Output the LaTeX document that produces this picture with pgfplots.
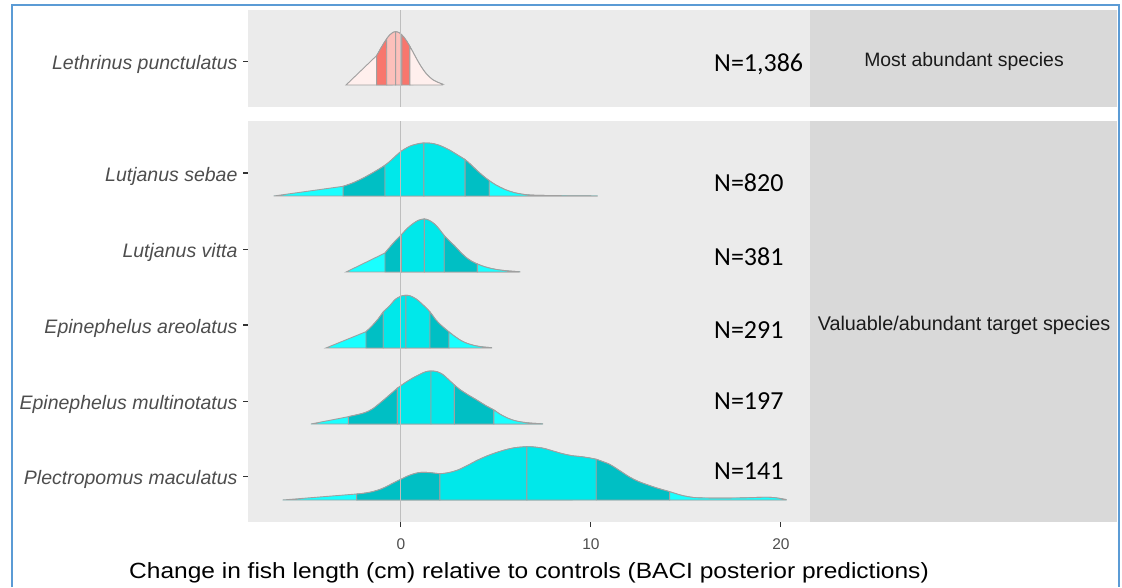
\documentclass[border=0pt]{standalone}
\usepackage{pgfplots}
\pgfplotsset{compat=1.18}
\usepgfplotslibrary{fillbetween}
\usepackage{pgfplotstable}
\usepackage{fontspec}
\setmainfont{Liberation Sans}
\newfontfamily\carlito{Carlito}

\definecolor{panel}{HTML}{EBEBEB}
\definecolor{stripc}{HTML}{D9D9D9}
\definecolor{lab}{HTML}{4D4D4D}
\definecolor{tickc}{HTML}{333333}
\definecolor{strtxt}{HTML}{1A1A1A}
\definecolor{lc}{HTML}{A0A0A0}
\definecolor{zl}{HTML}{BEBEBE}
\definecolor{frame}{HTML}{5B9BD5}
\definecolor{cyo}{HTML}{19FFFF}
\definecolor{cyd}{HTML}{00BFC4}
\definecolor{cyc}{HTML}{00E8EA}
\definecolor{reo}{HTML}{FFEFED}
\definecolor{red}{HTML}{F8766D}
\definecolor{rec}{HTML}{FCC0BB}

\pgfplotstableread{
x h
-2.89 0.8
-2.6 2.3
-2.4 4.0
-2.2 5.8
-2.0 9.3
-1.8 13.8
-1.6 19
-1.4 25.5
-1.2 32
-1.0 38.7
-0.8 44.8
-0.6 49.8
-0.4 52.8
-0.28 53.3
-0.1 52.3
0.1 49
0.3 44
0.5 37.5
0.7 30.5
0.9 23.5
1.1 17.3
1.3 12
1.5 8
1.7 5
1.9 3
2.19 0.8
}\lethrinus

\pgfplotstableread{
x h
-6.7 0.3
-6.0 0.8
-5.5 1.5
-5.0 2.3
-4.5 3.7
-4.0 5.5
-3.5 7.6
-3.04 9.7
-2.5 13.3
-2.0 17.8
-1.5 23
-0.84 30.7
-0.5 36
0.0 44.5
0.5 50
1.0 52.6
1.21 53
1.6 52.7
2.0 50.8
2.5 46.5
3.0 40.8
3.38 36.3
3.7 31
4.0 25.5
4.3 20.5
4.65 15.3
5.0 11
5.5 6.3
6.0 3.2
6.5 1.5
7.0 0.8
8.0 0.4
9.0 0.2
10.35 0
}\sebae

\pgfplotstableread{
x h
-2.89 0.3
-2.5 1
-2.0 2.5
-1.7 4.5
-1.4 8.5
-1.1 13.5
-0.84 19
-0.6 24.5
-0.3 31
0.03 37.3
0.3 43
0.6 47.8
0.9 51.5
1.23 53
1.5 51.5
1.8 47.5
2.05 42
2.28 36.3
2.55 31
2.8 26.5
3.1 20.5
3.4 15
3.7 11
4.02 8
4.4 5.3
4.8 3.3
5.2 2
5.7 1
6.26 0.2
}\vitta

\pgfplotstableread{
x h
-3.95 0.5
-3.6 1.3
-3.3 2.3
-3.0 3.8
-2.6 6.8
-2.2 11
-1.84 16.3
-1.5 22.5
-1.2 29
-0.93 36
-0.6 42
-0.3 48.5
0.0 51.8
0.26 52.7
0.5 52
0.8 49
1.1 44.2
1.53 36
1.8 29
2.1 23
2.53 16
2.9 10.7
3.2 7
3.5 4.5
3.9 2.3
4.3 1.1
4.77 0.3
}\areolatus

\pgfplotstableread{
x h
-4.74 0.3
-4.3 1.3
-3.8 3
-3.3 5
-2.77 7.3
-2.3 9.3
-1.9 11.3
-1.5 15
-1.0 22.5
-0.6 29
-0.19 35.7
0.2 41
0.6 45.7
1.0 49.7
1.3 52.2
1.58 53
1.9 52.3
2.2 49.5
2.5 44.5
2.81 39
3.1 34.5
3.5 29.5
3.9 25
4.2 21.5
4.5 18
4.89 14
5.2 10
5.6 6
6.0 3.3
6.4 1.8
6.9 0.8
7.46 0.2
}\multinotatus

\pgfplotstableread{
x h
-6.23 0.3
-5.5 1.2
-5.0 1.9
-4.5 2.6
-4.0 3.3
-3.5 4.1
-3.0 5
-2.33 6
-2.0 6.6
-1.5 8.3
-1.0 11.3
-0.6 15
-0.3 18
0.0 20.7
0.3 23.5
0.6 25.7
0.9 27.2
1.2 27.7
1.6 27.2
2.05 26.3
2.5 27.3
3.0 30
3.5 34.5
4.0 39.5
4.5 43.8
5.0 47.3
5.5 50.2
6.0 52.3
6.63 53.3
7.0 53
7.5 51.7
8.0 49
8.5 46.3
9.0 44.3
9.5 43.3
10.0 41.8
10.28 40.7
10.7 37.8
11.0 35.5
11.5 29.5
12.0 23.3
12.5 18.5
13.0 15
13.5 11.8
14.14 8.3
14.8 4.5
15.4 2.5
16.0 2
17.0 1.9
18.0 2.1
18.8 2.6
19.3 2.8
19.8 2
20.28 0.4
}\plectropomus

% #1 table, #2 baseline, #3 start, #4 q1, #5 q2, #6 median, #7 q3, #8 q4, #9 end
\newcommand\ridge[9]{%
 \addplot[draw=none, smooth, tension=0.5, name path=c#2] table[x=x, y expr=\thisrow{h}+#2]{#1};
 \addplot[draw=none, name path=b#2] coordinates {(#3,#2) (#9,#2)};
 \addplot[fill=\co, draw=lc, line width=0.9pt] fill between[of=c#2 and b#2, soft clip={domain=#3:#4}];
 \addplot[fill=\cd, draw=lc, line width=0.9pt] fill between[of=c#2 and b#2, soft clip={domain=#4:#5}];
 \addplot[fill=\cc, draw=lc, line width=0.9pt] fill between[of=c#2 and b#2, soft clip={domain=#5:#6}];
 \addplot[fill=\cc, draw=lc, line width=0.9pt] fill between[of=c#2 and b#2, soft clip={domain=#6:#7}];
 \addplot[fill=\cd, draw=lc, line width=0.9pt] fill between[of=c#2 and b#2, soft clip={domain=#7:#8}];
 \addplot[fill=\co, draw=lc, line width=0.9pt] fill between[of=c#2 and b#2, soft clip={domain=#8:#9}];
}

\pgfplotsset{ridgeax/.style={
  scale only axis, width=562pt, xmin=-8.05, xmax=21.53, ymin=0,
  axis line style={draw=none},
  axis background/.style={fill=panel},
  tick align=outside, major tick length=5pt,
  every tick/.style={color=tickc, line width=1.1pt},
  xtick pos=bottom, ytick pos=left,
  yticklabel style={font=\fontsize{19.5}{21}\selectfont\itshape, text=lab, yshift=-3pt, xshift=-2pt},
  xticklabel style={font=\fontsize{15.5}{16}\selectfont, text=lab, yshift=-8pt},
}}

\begin{document}
\begin{tikzpicture}

% top panel
\begin{axis}[ridgeax, at={(248pt,480pt)}, anchor=south west, height=97pt, ymax=97,
  xtick=\empty, ytick={45.3}, yticklabels={Lethrinus punctulatus}]
\def\co{reo}\def\cd{red}\def\cc{rec}
\ridge{\lethrinus}{22}{-2.89}{-1.28}{-0.75}{-0.28}{0.05}{0.47}{2.19}
\addplot[zl, line width=0.9pt] coordinates {(0,0) (0,97)};
\end{axis}

% bottom panel
\begin{axis}[ridgeax, at={(248pt,65pt)}, anchor=south west, height=401pt, ymax=401,
  xtick={0,10,20}, xticklabels={0,10,20},
  ytick={45.3,120.3,197,272.7,349},
  yticklabels={Plectropomus maculatus, Epinephelus multinotatus, Epinephelus areolatus, Lutjanus vitta, Lutjanus sebae},
  xlabel={\scalebox{1.114}[1]{Change in fish length (cm) relative to controls (BACI posterior predictions)}},
  xlabel style={font=\fontsize{22}{23}\selectfont, text=black, at={(axis description cs:0.5,-0.1397)}, anchor=base}]
\def\co{cyo}\def\cd{cyd}\def\cc{cyc}
\ridge{\sebae}{326}{-6.7}{-3.04}{-0.84}{1.21}{3.38}{4.65}{10.35}
\ridge{\vitta}{250}{-2.89}{-0.84}{0.03}{1.23}{2.28}{4.02}{6.26}
\ridge{\areolatus}{174}{-3.95}{-1.84}{-0.93}{0.26}{1.53}{2.53}{4.77}
\ridge{\multinotatus}{98}{-4.74}{-2.77}{-0.19}{1.58}{2.81}{4.89}{7.46}
\ridge{\plectropomus}{22}{-6.23}{-2.33}{2.05}{6.63}{10.28}{14.14}{20.28}
\addplot[zl, line width=0.9pt] coordinates {(0,0) (0,401)};
\end{axis}

% facet strips
\fill[stripc] (810pt,65pt) rectangle (1117pt,466pt);
\fill[stripc] (810pt,480pt) rectangle (1117pt,577pt);
\node[anchor=base, inner sep=0, font=\fontsize{19.4}{20}\selectfont, text=strtxt] at (964pt,520pt) {Most abundant species};
\node[anchor=base, inner sep=0, font=\fontsize{19.8}{20}\selectfont, text=strtxt] at (964pt,256pt) {Valuable/abundant target species};

% sample sizes
\begin{scope}[every node/.style={anchor=base west, inner sep=0, font=\carlito\fontsize{26}{28}\selectfont, text=black}]
\node at (714pt,515.5pt) {N=1,386};
\node at (714pt,395pt) {N=820};
\node at (714pt,321pt) {N=381};
\node at (714pt,248pt) {N=291};
\node at (714pt,178pt) {N=197};
\node at (714pt,107.5pt) {N=141};
\end{scope}

% frame
\draw[frame, line width=1.5pt] (12pt,0pt) -- (12pt,582pt) -- (1119pt,582pt) -- (1119pt,0pt);
\pgfresetboundingbox
\path[use as bounding box] (0,0) rectangle (1122pt,587pt);
\end{tikzpicture}
\end{document}
